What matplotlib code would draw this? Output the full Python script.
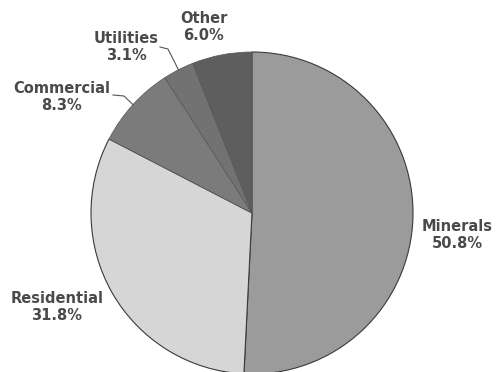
import numpy as np
import matplotlib
matplotlib.use('Agg')
import matplotlib.pyplot as plt

# Donnees
categories = ['Minerals', 'Residential', 'Commercial', 'Utilities', 'Other']
shares = [50.8, 31.8, 8.3, 3.1, 6.0]
colors = ['#9b9b9b', '#d6d6d6', '#7b7b7b', '#727272', '#5e5e5e']

# positions des etiquettes (pixels image, y vers le bas)
label_pos = {
    'Minerals': (457, 235),
    'Residential': (57, 307),
    'Commercial': (62, 97),
    'Utilities': (126, 47),
    'Other': (204, 27),
}
# coude des lignes de rappel
leader_knee = {
    'Commercial': [(113, 95), (124, 96)],
    'Utilities': [(160, 47), (168, 49)],
}

W, H = 496, 372
CX, CY, R = 252, 213, 161

fig = plt.figure(figsize=(W / 100, H / 100), dpi=100)
ax = fig.add_axes([0, 0, 1, 1])

wedges, _ = ax.pie(shares, colors=colors, startangle=90, counterclock=False,
                   center=(CX, H - CY), radius=R, frame=True,
                   wedgeprops=dict(edgecolor='#3a3a3a', linewidth=0.8))
# traits internes plus discrets entre les parts sombres
for w in wedges[2:]:
    w.set_edgecolor('#555555')
    w.set_linewidth(0.5)
ax.set_xlim(0, W)
ax.set_ylim(0, H)
ax.set_aspect('equal')
ax.axis('off')

txt_color = '#4a4a4a'
cum = 0
for name, val in zip(categories, shares):
    mid = cum + val / 2
    cum += val
    ang = np.deg2rad(90 - mid / 100 * 360)
    lx, ly = label_pos[name]
    ax.text(lx, H - ly, f'{name}\n{val:.1f}%', ha='center', va='center',
            fontsize=10.5, fontweight='bold', color=txt_color, linespacing=1.1)
    if name in leader_knee:
        ex = CX + R * np.cos(ang)
        ey = (H - CY) + R * np.sin(ang)
        pts = leader_knee[name]
        xs = [p[0] for p in pts] + [ex]
        ys = [H - p[1] for p in pts] + [ey]
        ax.plot(xs, ys, color='#555555', lw=0.8)

plt.savefig('out.png', dpi=100)
